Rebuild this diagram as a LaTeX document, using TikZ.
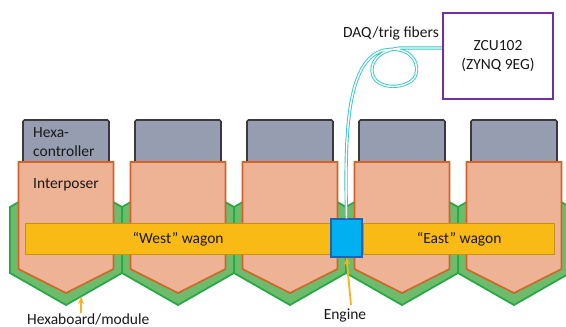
\documentclass[tikz,border=0pt]{standalone}
\usepackage{fontspec}
\setmainfont{Carlito}
\usepackage{tikz}
\usetikzlibrary{arrows.meta,positioning}
\definecolor{hexgreen}{RGB}{108,188,108}
\definecolor{hexedge}{RGB}{40,168,70}
\definecolor{ipfill}{RGB}{238,178,148}
\definecolor{ipedge}{RGB}{214,98,40}
\definecolor{ctrlfill}{RGB}{150,157,176}
\definecolor{ctrledge}{RGB}{58,58,62}
\definecolor{wagonfill}{RGB}{250,186,22}
\definecolor{wagonedge}{RGB}{196,146,20}
\definecolor{engfill}{RGB}{0,176,240}
\definecolor{engedge}{RGB}{32,98,176}
\definecolor{zcuedge}{RGB}{112,48,160}
\definecolor{fibercol}{RGB}{50,198,200}
\definecolor{notecol}{RGB}{248,180,28}
\definecolor{txt}{RGB}{25,25,25}

\begin{document}
\begin{tikzpicture}[x=1pt,y=-1pt,>=Stealth,
  every node/.style={font=\fontsize{15.5}{18.5}\selectfont,text=txt},
  hexboard/.style={fill=hexgreen,draw=hexedge,line width=1.8pt},
  interposer/.style={fill=ipfill,draw=ipedge,line width=1.6pt},
  ctrl/.style={fill=ctrlfill,draw=ctrledge,line width=1.6pt,rounded corners=1.5pt},
  wagon/.style={fill=wagonfill,draw=wagonedge,line width=1.3pt,inner sep=0pt,minimum height=31pt},
  fiber/.style={draw=fibercol,double=white,line width=0.9pt,double distance=1.4pt},
  note/.style={draw=notecol,line width=1.8pt,-{Stealth[length=7pt,width=6pt]}},
  lbl/.style={inner sep=0pt}]
  \useasboundingbox (0,0) rectangle (566,327);
  \fill[white] (0,0) rectangle (566,327);
  % modules
  \foreach \c in {66,178,290,402,514}{
    \draw[hexboard] (\c,175)--(\c+56,207)--(\c+56,273)--(\c,305)--(\c-56,273)--(\c-56,207)--cycle;
    \draw[ctrl] (\c-43,120) rectangle (\c+43,166);
    \draw[interposer] (\c-47.5,162)--(\c+47.5,162)--(\c+47.5,269)--(\c,293)--(\c-47.5,269)--cycle;
  }
  \node[lbl,anchor=west,align=left] (ctrllbl) at (33,142) {Hexa-\\controller};
  \node[lbl,anchor=west] (iplbl) at (33,185) {Interposer};
  % wagons and engine
  \node[wagon,minimum width=305pt,anchor=north west] (west) at (25,223) {“West” wagon};
  \node[wagon,minimum width=191pt,anchor=north west] (east) at (363,223) {“East” wagon};
  \node[draw=zcuedge,line width=2.4pt,minimum width=110pt,minimum height=86pt,align=center] (zcu) at (498,56) {ZCU102\\(ZYNQ 9EG)};
  \node[fill=engfill,draw=engedge,line width=1.4pt,minimum width=31pt,minimum height=38pt,inner sep=0pt] (engine) at (346.5,238) {};
  \draw[fiber] (engine.north) .. controls (345,140) and (345,58) .. (385,50)
    .. controls (405,46) and (420,58) .. (416,74)
    .. controls (413,88) and (380,92) .. (373,76)
    .. controls (368,62) and (380,50) .. (400,48)
    -- ([yshift=8pt]zcu.west);
  \node[lbl,anchor=east] (fiblbl) at (439,33) {DAQ/trig fibers};
  % labels below
  \node[lbl,anchor=west] (hexlbl) at (27,319) {Hexaboard/module};
  \coordinate (hexpt) at (81,297);
  \draw[note] (hexlbl.north -| hexpt) -- (hexpt);
  \node[lbl] (englbl) at (345,315) {Engine};
  \draw[note] ([xshift=6pt,yshift=3pt]englbl.north) -- (engine.south);
\end{tikzpicture}
\end{document}
